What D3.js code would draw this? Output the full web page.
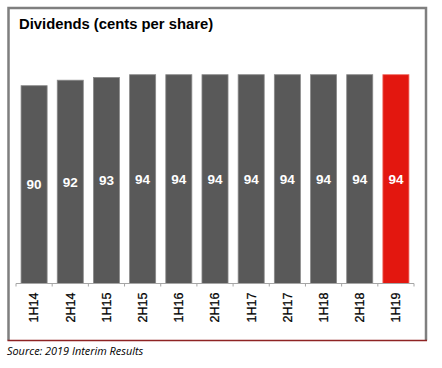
<!DOCTYPE html>
<html>
<head>
<meta charset="utf-8">
<script src="https://cdn.jsdelivr.net/npm/d3@7"></script>
<style>
  body { margin: 0; background: #fff; }
  svg { display: block; }
</style>
</head>
<body>
<div id="chart"></div>
<script>
// half-year periods and dividends (cents per share)
var periods = ["1H14", "2H14", "1H15", "2H15", "1H16", "2H16", "1H17", "2H17", "1H18", "2H18", "1H19"];
var dividends = [90, 92, 93, 94, 94, 94, 94, 94, 94, 94, 94];
var highlight = "1H19";

var W = 442, H = 368;

var svg = d3.select("#chart").append("svg")
	.attr("width", W)
	.attr("height", H);

// frame round the chart
var frame = { left: 8.5, top: 8, right: 426, bottom: 340.5 };
svg.append("path")
	.attr("d", "M" + frame.left + "," + frame.bottom + "V" + frame.top + "H" + frame.right + "V" + frame.bottom)
	.attr("fill", "none")
	.attr("stroke", "#7f7f7f")
	.attr("stroke-width", 2.5);
svg.append("line")
	.attr("x1", frame.left - 1).attr("x2", frame.right + 1)
	.attr("y1", frame.bottom).attr("y2", frame.bottom)
	.attr("stroke", "#8e2323")
	.attr("stroke-width", 1.5);

// title
svg.append("text")
	.text("Dividends (cents per share)")
	.attr("x", 19)
	.attr("y", 28.5)
	.attr("font-family", "Liberation Sans, Arial, sans-serif")
	.attr("font-weight", "bold")
	.attr("font-size", 14.8)
	.attr("fill", "#000");

// scales
var baseY = 283.5;
var x = d3.scaleBand()
	.domain(periods)
	.range([16, 414])
	.paddingInner(0.28)
	.paddingOuter(0.14);

var y = d3.scaleLinear()
	.domain([18, 94])
	.range([baseY, 74.7]);

// bars
var data = periods.map(function(p, i){ return { period: p, value: dividends[i] }; });

svg.selectAll("rect.bar")
	.data(data)
	.enter()
	.append("rect")
	.attr("class", "bar")
	.attr("x", function(d){ return x(d.period); })
	.attr("y", function(d){ return y(d.value); })
	.attr("width", x.bandwidth())
	.attr("height", function(d){ return baseY - y(d.value); })
	.attr("fill", function(d){ return d.period == highlight ? "#e3170f" : "#595959"; })
	.attr("stroke", function(d){ return d.period == highlight ? "#ee6a60" : "#8a8a8a"; })
	.attr("stroke-width", 0.8);

// value labels in the middle of each bar
svg.selectAll("text.value")
	.data(data)
	.enter()
	.append("text")
	.attr("class", "value")
	.text(function(d){ return d.value; })
	.attr("x", function(d){ return x(d.period) + x.bandwidth() / 2; })
	.attr("y", function(d){ return (y(d.value) + baseY) / 2; })
	.attr("dy", "0.35em")
	.attr("text-anchor", "middle")
	.attr("font-family", "Liberation Sans, Arial, sans-serif")
	.attr("font-weight", "bold")
	.attr("font-size", 13.5)
	.attr("fill", "#fff");

// category axis: ticks sit between the bars
var step = x.step();
var axisG = svg.append("g").attr("class", "axis");
axisG.append("line")
	.attr("x1", x.range()[0]).attr("x2", x.range()[1])
	.attr("y1", baseY).attr("y2", baseY)
	.attr("stroke", "#a6a6a6")
	.attr("stroke-width", 1);

axisG.selectAll("line.tick")
	.data(d3.range(periods.length + 1))
	.enter()
	.append("line")
	.attr("class", "tick")
	.attr("x1", function(i){ return x.range()[0] + i * step; })
	.attr("x2", function(i){ return x.range()[0] + i * step; })
	.attr("y1", baseY)
	.attr("y2", baseY + 3)
	.attr("stroke", "#a6a6a6")
	.attr("stroke-width", 1);

axisG.selectAll("text")
	.data(periods)
	.enter()
	.append("text")
	.text(function(d){ return d; })
	.attr("transform", function(d){
		return "translate(" + (x(d) + x.bandwidth() / 2) + "," + 292.5 + ") rotate(-90)";
	})
	.attr("dy", "0.35em")
	.attr("text-anchor", "end")
	.attr("font-family", "Liberation Sans, Arial, sans-serif")
	.attr("font-size", 12.5)
	.attr("stroke", "#000")
	.attr("stroke-width", 0.25)
	.attr("fill", "#000");

// source note
svg.append("text")
	.text("Source: 2019 Interim Results")
	.attr("x", 7)
	.attr("y", 355)
	.attr("font-family", "Open Sans, sans-serif")
	.attr("font-style", "italic")
	.attr("font-size", 10.9)
	.attr("fill", "#000");
</script>
</body>
</html>
